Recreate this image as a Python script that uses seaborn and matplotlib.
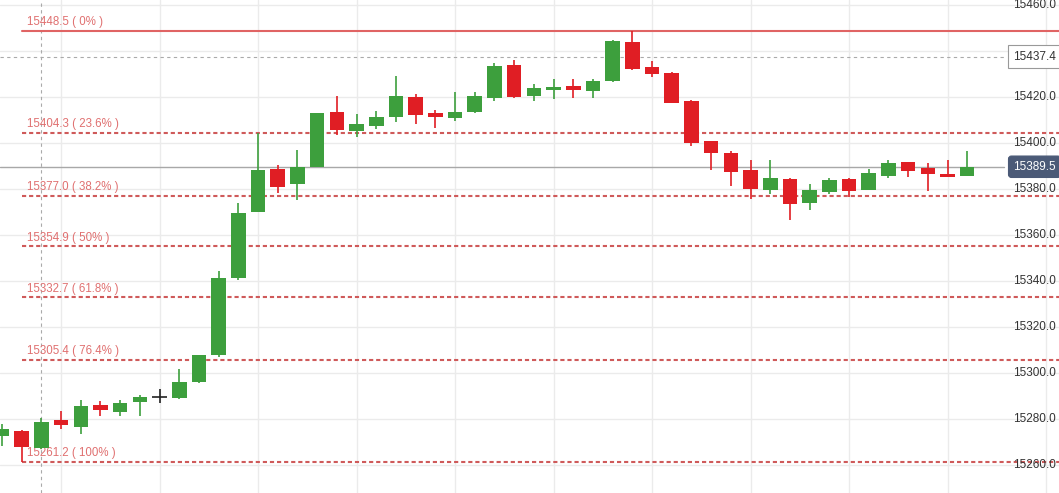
import matplotlib
matplotlib.use("Agg")
import matplotlib.pyplot as plt
import seaborn as sns
import numpy as np

opens = [15272.6, 15274.7, 15267.4, 15279.5, 15276.5, 15286.0, 15283.1, 15287.4, 15289.6, 15289.2,
         15296.1, 15307.8, 15341.3, 15370.0, 15388.5, 15381.9, 15389.6, 15413.3, 15405.0, 15407.2,
         15411.3, 15419.8, 15412.9, 15410.9, 15413.4, 15419.5, 15433.7, 15420.3, 15423.0, 15424.6,
         15422.4, 15426.8, 15443.7, 15432.9, 15430.2, 15418.1, 15400.7, 15395.5, 15388.1, 15379.4,
         15384.2, 15373.9, 15378.7, 15384.2, 15379.6, 15385.6, 15391.6, 15389.0, 15386.4, 15385.6]
closes = [15275.4, 15267.8, 15278.6, 15277.3, 15285.5, 15283.8, 15286.7, 15289.6, 15289.6, 15296.0,
          15307.7, 15341.0, 15369.3, 15388.1, 15380.8, 15389.5, 15412.7, 15405.6, 15408.1, 15411.1,
          15420.3, 15412.1, 15411.3, 15413.3, 15420.3, 15433.3, 15419.9, 15423.6, 15424.2, 15422.9,
          15426.8, 15444.2, 15432.0, 15429.7, 15417.3, 15400.0, 15395.6, 15387.4, 15379.8, 15384.8,
          15373.5, 15379.4, 15383.8, 15379.1, 15386.9, 15391.1, 15387.8, 15386.4, 15385.2, 15389.5]
highs = [15277.7, 15275.0, 15280.2, 15283.4, 15288.1, 15287.7, 15288.1, 15290.3, 15292.9, 15301.6,
         15307.7, 15344.2, 15373.6, 15404.2, 15390.3, 15396.8, 15412.7, 15420.3, 15412.3, 15413.7,
         15429.0, 15421.1, 15414.2, 15422.0, 15422.0, 15434.6, 15435.9, 15425.5, 15427.5, 15427.5,
         15427.5, 15444.6, 15448.5, 15435.5, 15430.7, 15418.5, 15400.7, 15396.4, 15392.4, 15392.4,
         15384.8, 15382.0, 15384.8, 15384.8, 15388.7, 15392.4, 15391.6, 15391.1, 15392.4, 15396.4]
lows = [15268.2, 15261.2, 15267.0, 15275.4, 15273.4, 15281.3, 15281.0, 15281.0, 15286.7, 15288.4,
        15295.4, 15307.0, 15340.3, 15370.0, 15378.0, 15375.1, 15389.6, 15403.3, 15402.6, 15406.0,
        15409.0, 15408.2, 15406.5, 15409.5, 15412.7, 15418.0, 15419.5, 15418.0, 15419.0, 15419.4,
        15419.4, 15426.3, 15431.6, 15428.6, 15417.3, 15398.5, 15388.1, 15381.0, 15375.6, 15377.7,
        15366.4, 15370.7, 15377.7, 15376.5, 15379.6, 15384.8, 15385.2, 15379.1, 15385.2, 15385.6]

fib_levels = [15448.5, 15404.3, 15377.0, 15354.9, 15332.7, 15305.4, 15261.2]
fib_labels = ["15448.5 ( 0% )", "15404.3 ( 23.6% )", "15377.0 ( 38.2% )", "15354.9 ( 50% )",
              "15332.7 ( 61.8% )", "15305.4 ( 76.4% )", "15261.2 ( 100% )"]
y_ticks = [15260, 15280, 15300, 15320, 15340, 15360, 15380, 15400, 15420, 15440, 15460]
y_tick_labels = ["15260.0", "15280.0", "15300.0", "15320.0", "15340.0", "15360.0",
                 "15380.0", "15400.0", "15420.0", "", "15460.0"]
last_price = 15389.5
cross_price = 15437.4
cross_index = 2

sns.set_theme(style="white")
plt.rcParams['font.family'] = ['Liberation Sans', 'DejaVu Sans']

fig = plt.figure(figsize=(10.59, 4.93), dpi=100)
ax = fig.add_axes([0, 0, 1, 1])

GREEN = '#3d9f3d'
RED = '#e01e24'
n = len(opens)
idx = np.arange(n)

ax.set_xlim(-0.1015, 53.66)
ax.set_ylim(15247.7, 15461.98)

ax.set_xticks(np.arange(3, 54, 5))
ax.set_yticks(y_ticks)
ax.grid(True, color='#ebebeb', lw=1)
ax.tick_params(length=0, labelbottom=False, labelleft=False)
for s in ax.spines.values():
    s.set_visible(False)
ax.set_axisbelow(True)

# fib lines
for k, (lvl, lab) in enumerate(zip(fib_levels, fib_labels)):
    if k == 0:
        ax.plot([1, 53.66], [lvl, lvl], color='#e06464', lw=1.5, zorder=2)
    else:
        ax.plot([1, 53.66], [lvl, lvl], color='#cf5a5a', lw=1.5, dashes=(2, 1.4), zorder=2)
    ax.annotate(lab, (1.27, lvl), xytext=(0, 2), textcoords='offset points',
                ha='left', va='bottom', color='#e07070', fontsize=8.3, zorder=3)

# current price line and crosshair
ax.axhline(last_price, xmin=0, xmax=0.948, color='#a8a8a8', lw=1, zorder=1.5)
ax.axhline(cross_price, xmin=0, xmax=0.948, color='#aaaaaa', lw=0.8, dashes=(3, 3), zorder=1.5)
ax.axvline(cross_index, color='#aaaaaa', lw=0.8, dashes=(3, 3), zorder=1.5)

# candles
w = 0.74
for i in idx:
    o, c, h, l = opens[i], closes[i], highs[i], lows[i]
    if c > o:
        col = GREEN
    elif c < o:
        col = RED
    else:
        col = '#222222'
    ax.vlines(i, l, h, color=col, lw=1.2, zorder=4)
    if c == o:
        ax.hlines(o, i - w / 2, i + w / 2, color=col, lw=1.2, zorder=4)
    else:
        ax.bar(i, abs(c - o), bottom=min(o, c), width=w, color=col, lw=0, zorder=5)

# y tick labels (inside, right)
for t, lab in zip(y_ticks, y_tick_labels):
    if lab:
        ax.text(53.5, t, lab, ha='right', va='center', fontsize=8.5, color='#333333', zorder=6)

ax.text(53.5, cross_price, f"{cross_price:.1f}", ha='right', va='center', fontsize=8.5,
        color='#333333', zorder=7,
        bbox=dict(boxstyle='square,pad=0.45', fc='white', ec='#999999', lw=0.8))
ax.text(53.5, last_price, f"{last_price:.1f}", ha='right', va='center', fontsize=8.5,
        color='white', zorder=7,
        bbox=dict(boxstyle='round,pad=0.4,rounding_size=0.25', fc='#4b5a77', ec='#4b5a77', lw=0.8))

fig.savefig("out.png", dpi=100)
